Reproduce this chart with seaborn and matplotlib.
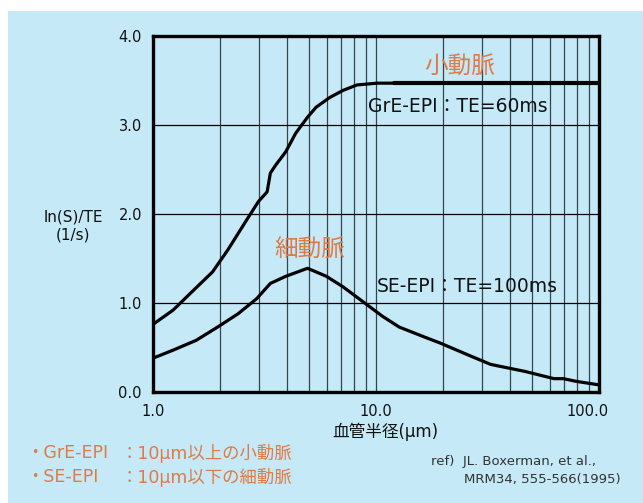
import pandas as pd
import matplotlib
matplotlib.use("Agg")
import matplotlib.pyplot as plt
import seaborn as sns
from matplotlib.patches import Rectangle
from matplotlib.ticker import FixedLocator, NullFormatter
from matplotlib.transforms import ScaledTranslation

# データ
gre_r = [1.0, 1.23, 1.53, 1.85, 2.17, 2.58, 2.97, 3.25, 3.36, 3.55, 3.94, 4.37,
         4.94, 5.39, 6.21, 7.13, 8.22, 10.1, 12.0, 100.0]
gre_v = [0.76, 0.92, 1.15, 1.35, 1.60, 1.90, 2.14, 2.25, 2.46, 2.55, 2.70, 2.91,
         3.09, 3.20, 3.31, 3.39, 3.45, 3.47, 3.47, 3.47]
se_r = [1.0, 1.23, 1.56, 1.95, 2.41, 2.92, 3.36, 3.94, 4.93, 5.99, 7.13, 9.12,
        10.7, 12.7, 16.4, 19.4, 26.8, 32.7, 46.8, 62.8, 69.2, 78.9, 100.0]
se_v = [0.38, 0.47, 0.58, 0.73, 0.88, 1.05, 1.22, 1.30, 1.39, 1.30, 1.18, 0.98,
        0.85, 0.73, 0.62, 0.55, 0.40, 0.31, 0.23, 0.15, 0.15, 0.12, 0.08]
x_ticks = [1, 10, 100]
x_tick_labels = ["1.0", "10.0", "100.0"]
y_ticks = [0, 1, 2, 3, 4]
y_tick_labels = ["0.0", "1.0", "2.0", "3.0", "4.0"]

gre = pd.DataFrame({"r": gre_r, "v": gre_v})
se = pd.DataFrame({"r": se_r, "v": se_v})

BG = "#c6e9f8"
ORANGE = "#e07a45"

sns.set_theme(style="white")
plt.rcParams["font.family"] = ["DejaVu Sans", "Noto Sans CJK JP"]

W, H = 643, 503
fig = plt.figure(figsize=(W / 100, H / 100), dpi=100, facecolor="white")
fig.patches.append(Rectangle((8 / W, 0), 1, (H - 11) / H, transform=fig.transFigure,
                             facecolor=BG, edgecolor="none", zorder=-10))
ax = fig.add_axes([153 / W, (H - 392) / H, (599 - 153) / W, (392 - 36) / H])
ax.set_facecolor(BG)

sns.lineplot(data=gre, x="r", y="v", color="black", lw=2.3, estimator=None, ax=ax)
sns.lineplot(data=gre[gre["r"] >= 12], x="r", y="v", color="black", lw=3.0,
             estimator=None, ax=ax)
sns.lineplot(data=se, x="r", y="v", color="black", lw=2.3, estimator=None, ax=ax)

ax.set_xscale("log")
ax.set_xlim(1, 100)
ax.set_ylim(0, 4)
ax.set_xticks(x_ticks)
ax.set_xticklabels(x_tick_labels)
ax.xaxis.set_minor_locator(FixedLocator([m * d for d in (1, 10) for m in range(2, 10)]))
ax.xaxis.set_minor_formatter(NullFormatter())
ax.set_yticks(y_ticks)
ax.set_yticklabels(y_tick_labels)
ax.tick_params(axis="both", which="both", length=0, labelsize=10.5, colors="#111111")
ax.tick_params(axis="x", pad=9)
ax.tick_params(axis="y", pad=8)
# 100.0 のラベルは少し左寄せ
lab = ax.get_xticklabels()[-1]
lab.set_transform(lab.get_transform() + ScaledTranslation(-11 / 100, 0, fig.dpi_scale_trans))

ax.grid(True, axis="y", color="black", lw=0.9)
ax.grid(True, axis="x", which="both", color="#34444c", lw=0.9)
for s in ax.spines.values():
    s.set_visible(True)
    s.set_color("black")
    s.set_linewidth(2.4)
ax.set_xlabel("")
ax.set_ylabel("")

# 注記
ax.text(9.2, 3.21, "GrE-EPI：TE=60ms", fontsize=13.5, va="center", ha="left", color="#111111")
ax.text(10.1, 1.18, "SE-EPI：TE=100ms", fontsize=13.5, va="center", ha="left", color="#111111")
ax.text(23.7, 3.67, "小動脈", fontsize=17, va="center", ha="center", color=ORANGE)
ax.text(5.06, 1.60, "細動脈", fontsize=17, va="center", ha="center", color=ORANGE)

fig.text(73 / W, 1 - 226 / H, "ln(S)/TE\n(1/s)", fontsize=11, ha="center", va="center",
         color="#111111", linespacing=1.3)
fig.text(385 / W, 1 - 432 / H, "血管半径(μm)", fontsize=12, ha="center", va="center",
         color="#111111")

fig.text(26 / W, 1 - 453 / H, "・GrE-EPI", fontsize=12.5, ha="left", va="center", color=ORANGE)
fig.text(121 / W, 1 - 453 / H, "：10μm以上の小動脈", fontsize=12.5, ha="left", va="center", color=ORANGE)
fig.text(26 / W, 1 - 477 / H, "・SE-EPI", fontsize=12.5, ha="left", va="center", color=ORANGE)
fig.text(121 / W, 1 - 477 / H, "：10μm以下の細動脈", fontsize=12.5, ha="left", va="center", color=ORANGE)

fig.text(431 / W, 1 - 462 / H, "ref)  JL. Boxerman, et al.,", fontsize=9.5, ha="left",
         va="center", color="#333333")
fig.text(464 / W, 1 - 479 / H, "MRM34, 555-566(1995)", fontsize=9.5, ha="left",
         va="center", color="#333333")

fig.savefig("out.png", dpi=100, facecolor="white")
plt.close(fig)
